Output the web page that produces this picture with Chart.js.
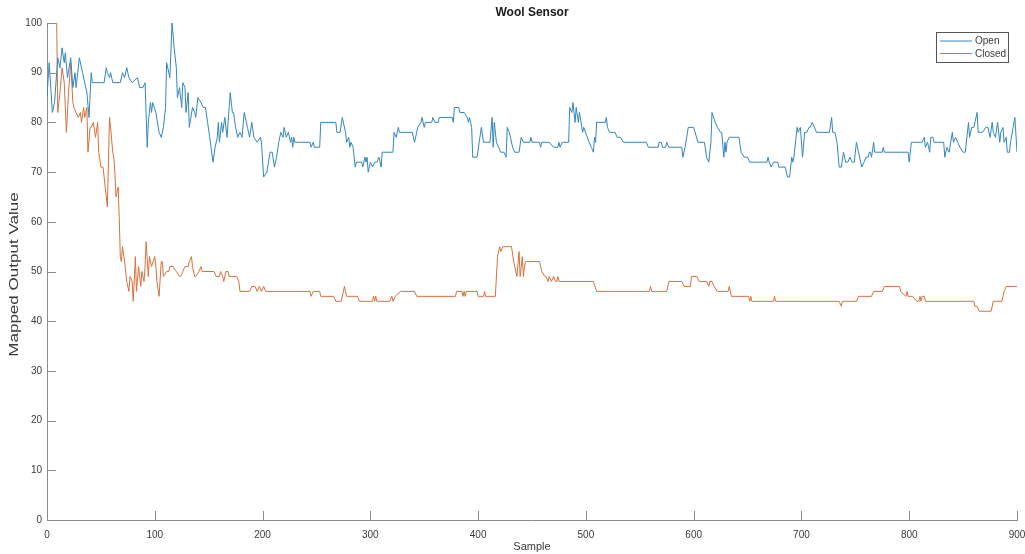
<!DOCTYPE html>
<html>
<head>
<meta charset="utf-8">
<title>Wool Sensor</title>
<script src="https://cdn.jsdelivr.net/npm/chart.js@4.4.1/dist/chart.umd.min.js"></script>
<style>
  html, body { margin: 0; padding: 0; background: #fff; }
  #wrap { width: 1025px; height: 554px; }
</style>
</head>
<body>
<div id="wrap"><canvas id="woolChart" width="1025" height="554"></canvas></div>
<script>
// Okunan kırılma noktaları (örnek no, değer)
const openX = [0,2,5,7,10,12,14,16,17,19,22,24,26,27,30,33,36,37,39,41,42,53,55,56,58,59,61,68,70,72,74,76,79,84,86,89,91,93,94,96,97,98,101,104,106,108,110,111,114,116,118,120,121,123,125,126,128,129,131,132,135,137,138,140,143,145,147,149,151,154,156,158,159,160,162,163,165,167,169,170,172,173,175,177,179,181,183,186,188,190,192,195,198,199,201,204,207,209,211,213,215,217,219,220,222,224,226,227,228,229,230,244,245,247,248,253,254,268,269,272,274,277,278,280,281,282,284,286,287,292,293,295,296,297,298,300,302,304,306,308,310,311,321,322,324,326,327,339,341,343,344,347,348,350,351,357,358,360,363,364,376,377,378,382,383,387,390,391,392,394,395,399,401,403,405,411,413,414,415,417,419,421,424,426,427,429,432,434,438,440,442,448,449,450,457,458,459,466,470,474,475,476,478,484,485,487,488,490,491,493,494,497,498,503,505,507,508,509,510,518,519,520,522,527,529,532,535,556,558,567,568,570,571,574,575,577,589,590,592,595,600,604,610,612,614,616,617,620,622,625,626,628,629,630,631,633,642,644,647,650,652,668,669,670,672,674,678,679,685,687,689,691,692,693,696,697,699,701,703,705,707,708,710,712,714,726,728,729,731,733,735,737,739,741,743,745,747,749,751,753,756,758,760,762,763,764,765,767,768,775,776,777,799,800,802,812,814,815,817,819,820,822,823,832,833,835,837,840,841,843,845,847,850,852,855,856,858,860,863,864,866,868,871,873,875,877,878,880,882,884,885,887,888,890,891,893,894,898,900];
const openY = [85,92,82,84,93,91,95,92,94,89,93,87,90,87,93,90,87,86,81,90,88,88,91,90,89,90,88,88,90,89,91,89,88,89,87,87,88,75,80,84,82,84,82,78,77,79,83,92,89,100,95,91,85,87,83,88,87,82,86,79,83,82,81,85,84,83,83,80,77,72,75,77,80,76,80,78,81,77,83,86,82,82,79,77,78,77,82,79,77,80,77,76,77,76,69,70,74,74,71,73,76,78,77,79,77,78,76,77,75,77,76,76,75,76,75,75,80,80,78,78,81,78,76,77,75,76,75,71,72,72,71,73,72,73,70,72,71,72,72,73,71,74,74,78,77,79,78,78,76,78,79,80,81,79,80,80,81,80,80,81,81,80,83,83,82,82,81,80,81,79,73,73,76,79,76,76,81,75,80,76,75,74,74,73,79,78,75,74,74,77,76,76,77,76,76,75,76,76,75,75,76,75,76,76,83,82,84,80,83,80,82,78,79,76,75,74,77,76,80,80,81,79,78,78,77,77,76,76,75,75,76,76,75,75,76,75,75,73,75,79,79,76,76,73,72,76,82,80,79,78,78,73,76,74,76,77,77,74,73,73,72,72,73,72,71,72,72,71,71,69,69,73,72,73,79,78,79,73,78,78,79,79,80,79,78,78,81,78,78,76,71,71,74,72,72,73,72,72,76,74,71,72,73,73,74,74,73,76,74,74,75,74,74,72,76,76,77,75,76,74,77,77,76,76,73,75,74,78,76,77,76,75,74,74,80,77,79,79,82,78,78,78,79,79,77,80,78,77,80,76,78,79,76,77,74,74,76,81,74];

const closedX = [0,9,10,12,14,16,18,20,22,24,25,27,29,31,32,34,35,37,38,40,41,43,45,47,48,50,52,54,56,58,59,61,62,63,64,66,67,68,69,70,72,74,76,77,79,80,82,83,85,87,88,90,91,92,94,95,97,100,101,102,104,106,107,108,111,113,114,116,117,120,123,124,126,128,129,131,132,134,135,137,138,141,143,144,155,157,160,161,163,164,166,168,169,171,172,176,178,179,188,190,193,195,197,199,201,203,206,244,245,247,253,254,266,268,273,276,278,288,290,302,303,304,305,306,318,320,321,323,328,341,343,379,380,385,386,387,388,389,399,400,405,406,407,416,418,420,421,423,426,431,433,436,438,439,441,442,443,444,445,457,459,462,463,465,466,468,470,472,473,474,475,507,510,559,560,561,575,577,589,591,597,598,603,605,612,614,615,617,619,622,632,633,635,651,652,653,654,674,675,676,735,737,738,751,753,765,767,775,777,791,792,797,798,799,803,807,809,810,811,812,814,815,860,861,863,865,876,878,886,888,890,900];
const closedY = [100,100,82,86,91,88,78,86,92,84,83,82,81,82,80,83,81,83,74,79,79,80,77,80,74,71,71,67,63,81,79,74,73,70,65,67,61,53,52,55,52,48,46,49,48,44,53,46,51,47,50,48,51,56,49,53,51,53,51,48,45,52,52,49,50,50,51,51,51,50,49,49,50,51,51,51,52,53,51,49,49,50,51,50,50,49,49,50,49,48,50,50,49,49,49,49,48,46,46,47,47,46,47,46,47,46,46,46,45,46,46,45,45,44,44,47,45,45,44,44,45,44,45,44,44,45,44,45,46,46,45,45,46,46,45,46,45,46,46,45,45,46,45,45,53,55,54,55,55,55,52,49,54,49,53,49,51,52,52,52,50,49,49,48,49,48,49,48,48,49,48,48,46,46,47,46,46,48,48,47,47,49,49,48,48,47,48,48,47,46,46,47,45,45,44,45,44,44,45,44,44,43,44,44,45,45,46,46,47,47,46,45,46,45,45,44,44,45,44,45,45,44,44,43,43,42,42,44,44,46,47,47];

const xTicks = [0, 100, 200, 300, 400, 500, 600, 700, 800, 900];
const yTicks = [0, 10, 20, 30, 40, 50, 60, 70, 80, 90, 100];

const seriesLabels = ['Open', 'Closed'];
const seriesColors = ['#3286bf', '#d8703c'];

const AXIS_COLOR = '#8c8c8c';
const TEXT_COLOR = '#3a3a3a';
const FONT = '"Liberation Sans", Arial, Helvetica, sans-serif';

// MATLAB gibi içe dönük tick çizgileri
const icTickPlugin = {
    id: 'icTick',
    afterDraw(chart) {
        const { ctx, chartArea, scales } = chart;
        ctx.save();
        ctx.strokeStyle = AXIS_COLOR;
        ctx.lineWidth = 1;
        ctx.beginPath();
        xTicks.forEach(t => {
            const px = Math.round(scales.x.getPixelForValue(t)) + 0.5;
            ctx.moveTo(px, chartArea.bottom);
            ctx.lineTo(px, chartArea.bottom - 9);
        });
        yTicks.forEach(t => {
            const py = Math.round(scales.y.getPixelForValue(t)) + 0.5;
            ctx.moveTo(chartArea.left, py);
            ctx.lineTo(chartArea.left + 9, py);
        });
        ctx.stroke();
        ctx.restore();
    }
};

// Başlık, y ekseni yazısı ve lejant
const textPlugin = {
    id: 'textParts',
    afterDraw(chart) {
        const { ctx, chartArea } = chart;
        ctx.save();

        // başlık
        ctx.fillStyle = '#1a1a1a';
        ctx.font = 'bold 12px ' + FONT;
        ctx.textAlign = 'center';
        ctx.textBaseline = 'middle';
        ctx.fillText('Wool Sensor', (chartArea.left + chartArea.right) / 2, 13);

        // y ekseni yazısı (biraz uzatılmış)
        ctx.save();
        ctx.translate(15, (chartArea.top + chartArea.bottom) / 2 + 3);
        ctx.rotate(-Math.PI / 2);
        ctx.scale(1.42, 1);
        ctx.font = '12px ' + FONT;
        ctx.fillStyle = TEXT_COLOR;
        ctx.fillText('Mapped Output Value', 0, 0);
        ctx.restore();

        // lejant kutusu
        const bx = 936.5, by = 32.5, bw = 72, bh = 30;
        ctx.fillStyle = '#ffffff';
        ctx.fillRect(bx, by, bw, bh);
        ctx.strokeStyle = '#555555';
        ctx.lineWidth = 1;
        ctx.strokeRect(bx, by, bw, bh);
        ctx.font = '10px ' + FONT;
        ctx.textAlign = 'left';
        chart.data.datasets.forEach((ds, i) => {
            const ly = 41 + i * 12.5;
            ctx.strokeStyle = ds.borderColor;
            ctx.beginPath();
            ctx.moveTo(940, ly);
            ctx.lineTo(972, ly);
            ctx.stroke();
            ctx.fillStyle = TEXT_COLOR;
            ctx.fillText(ds.label, 975, ly + 0.5);
        });
        ctx.restore();
    }
};

const ctx = document.getElementById('woolChart').getContext('2d');

new Chart(ctx, {
    type: 'line',
    data: {
        datasets: [
            {
                label: seriesLabels[0],
                data: openX.map((x, i) => ({ x: x, y: openY[i] })),
                borderColor: seriesColors[0],
                borderWidth: 1,
                pointRadius: 0,
                tension: 0,
                fill: false
            },
            {
                label: seriesLabels[1],
                data: closedX.map((x, i) => ({ x: x, y: closedY[i] })),
                borderColor: seriesColors[1],
                borderWidth: 1,
                pointRadius: 0,
                tension: 0,
                fill: false
            }
        ]
    },
    options: {
        responsive: false,
        animation: false,
        devicePixelRatio: 1,
        layout: { padding: { top: 23, right: 8, left: 0, bottom: 0 } },
        plugins: {
            legend: { display: false },
            tooltip: { enabled: false },
            title: { display: false }
        },
        scales: {
            x: {
                type: 'linear',
                min: 0,
                max: 900,
                afterBuildTicks: axis => { axis.ticks = xTicks.map(v => ({ value: v })); },
                afterFit: axis => {
                    axis.height = 34;
                    axis.paddingLeft = 0;
                    axis.paddingRight = 0;
                },
                grid: { display: false, drawTicks: false },
                border: { display: true, color: AXIS_COLOR, width: 1 },
                ticks: {
                    padding: 9,
                    maxRotation: 0,
                    autoSkip: false,
                    color: TEXT_COLOR,
                    font: { family: FONT, size: 10 }
                },
                title: {
                    display: true,
                    text: 'Sample',
                    color: TEXT_COLOR,
                    padding: { top: 0, bottom: 0 },
                    font: { family: FONT, size: 11 }
                }
            },
            y: {
                type: 'linear',
                min: 0,
                max: 100,
                afterBuildTicks: axis => { axis.ticks = yTicks.map(v => ({ value: v })); },
                afterFit: axis => {
                    axis.width = 47;
                    axis.paddingTop = 0;
                    axis.paddingBottom = 0;
                },
                grid: { display: false, drawTicks: false },
                border: { display: true, color: AXIS_COLOR, width: 1 },
                ticks: {
                    padding: 5,
                    autoSkip: false,
                    color: TEXT_COLOR,
                    font: { family: FONT, size: 10 }
                }
            }
        }
    },
    plugins: [icTickPlugin, textPlugin]
});
</script>
</body>
</html>
